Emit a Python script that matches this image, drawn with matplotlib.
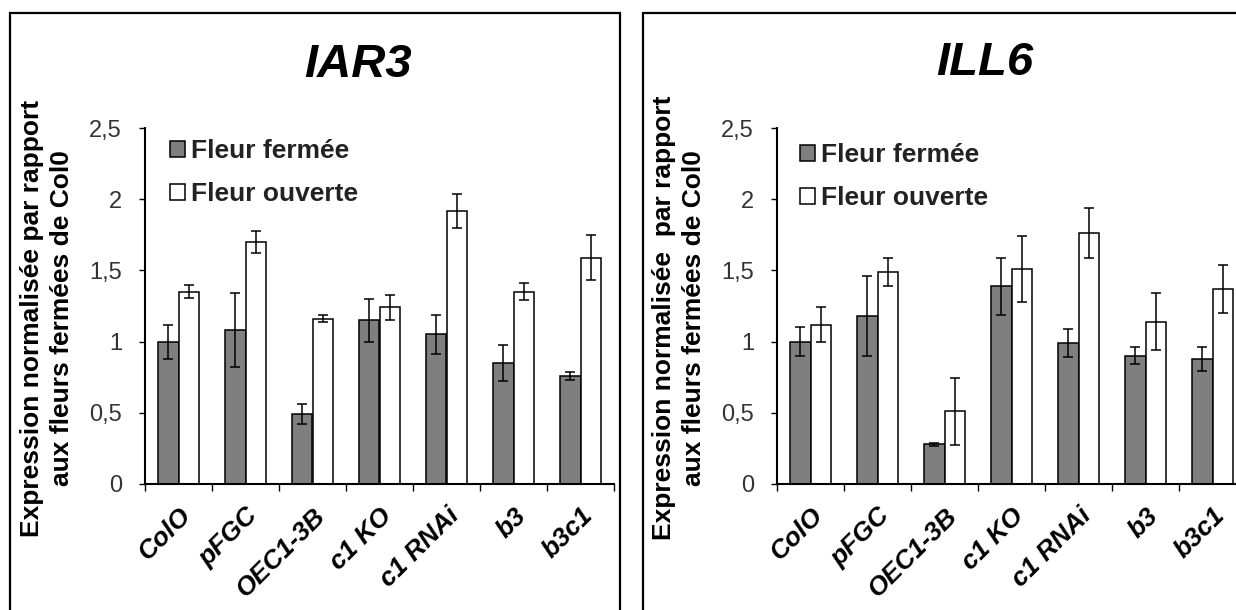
import matplotlib
matplotlib.use('Agg')
import matplotlib.pyplot as plt
import numpy as np
from matplotlib.patches import Rectangle, Patch

plt.rcParams['font.family'] = ['Liberation Sans', 'DejaVu Sans']

genotypes = ["ColO", "pFGC", "OEC1-3B", "c1 KO", "c1 RNAi", "b3", "b3c1"]

# IAR3
iar3_closed = [1.00, 1.08, 0.49, 1.15, 1.05, 0.85, 0.76]
iar3_closed_err = [0.12, 0.26, 0.07, 0.15, 0.14, 0.125, 0.03]
iar3_open = [1.35, 1.70, 1.16, 1.24, 1.92, 1.35, 1.59]
iar3_open_err = [0.045, 0.08, 0.025, 0.085, 0.12, 0.06, 0.16]

# ILL6
ill6_closed = [1.00, 1.18, 0.28, 1.39, 0.99, 0.90, 0.88]
ill6_closed_err = [0.10, 0.28, 0.01, 0.20, 0.095, 0.06, 0.085]
ill6_open = [1.12, 1.49, 0.51, 1.51, 1.76, 1.14, 1.37]
ill6_open_err = [0.12, 0.10, 0.235, 0.23, 0.175, 0.20, 0.17]

W, H = 1236, 610
GRAY = '#7f7f7f'


def fx(px):
    return px / W


def fy(py):
    return 1 - py / H


fig = plt.figure(figsize=(12.36, 6.10), dpi=100)

# panel frames
fig.add_artist(Rectangle((fx(10), -0.1), fx(610), fy(13) + 0.1, transform=fig.transFigure,
                         fill=False, lw=1.6, ec='black'))
fig.add_artist(Rectangle((fx(643), -0.1), fx(700), fy(13) + 0.1, transform=fig.transFigure,
                         fill=False, lw=1.6, ec='black'))


def draw_panel(left_px, closed, closed_err, opened, opened_err, title, title_xy, ylabel, ylab_x, leg_xy):
    ax = fig.add_axes([fx(left_px), fy(484), fx(469), (484 - 128) / H])
    x = np.arange(len(genotypes))
    w = 0.3
    ekw = dict(elinewidth=1.1, capthick=1.1, ecolor='black')
    ax.bar(x - w / 2, closed, w, color=GRAY, edgecolor='black', linewidth=1.1,
           yerr=closed_err, capsize=3.8, error_kw=ekw, label='Fleur fermée')
    ax.bar(x + w / 2, opened, w, color='white', edgecolor='black', linewidth=1.1,
           yerr=opened_err, capsize=3.8, error_kw=ekw, label='Fleur ouverte')
    ax.set_xlim(-0.5, len(genotypes) - 0.5)
    ax.set_ylim(0, 2.5)
    ax.set_yticks([0, 0.5, 1, 1.5, 2, 2.5])
    ax.set_yticklabels(['0', '0,5', '1', '1,5', '2', '2,5'], fontsize=17, color='#333333')
    ax.tick_params(axis='y', direction='out', length=4.5, width=1.0, pad=12)
    ax.set_xticks(np.arange(len(genotypes) + 1) - 0.5)
    ax.set_xticklabels([])
    ax.tick_params(axis='x', which='major', direction='out', length=5, width=1.0)
    ax.set_xticks(x, minor=True)
    ax.set_xticklabels(genotypes, minor=True, rotation=45, ha='right', rotation_mode='anchor',
                       fontsize=19, fontweight='bold', fontstyle='italic')
    ax.tick_params(axis='x', which='minor', length=0, pad=14)
    for s in ['top', 'right']:
        ax.spines[s].set_visible(False)
    for s in ['left', 'bottom']:
        ax.spines[s].set_linewidth(1.5)
    handles = [Patch(facecolor=GRAY, edgecolor='black', linewidth=1.1),
               Patch(facecolor='white', edgecolor='black', linewidth=1.1)]
    ax.legend(handles, ['Fleur fermée', 'Fleur ouverte'], loc='upper left',
              bbox_to_anchor=(fx(leg_xy[0]), fy(leg_xy[1])), bbox_transform=fig.transFigure,
              frameon=False, prop={'size': 19, 'weight': 'bold'}, handlelength=0.55,
              handleheight=0.55, handletextpad=0.25, labelspacing=0.72, borderpad=0,
              borderaxespad=0, labelcolor='#222222')
    fig.text(fx(title_xy[0]), fy(title_xy[1]), title, ha='center', va='center', fontsize=34,
             fontweight='bold', fontstyle='italic')
    fig.text(fx(ylab_x), fy(318), ylabel, rotation=90, ha='center', va='center',
             multialignment='center', fontsize=19, fontweight='bold', linespacing=1.3)
    return ax


draw_panel(145, iar3_closed, iar3_closed_err, iar3_open, iar3_open_err, 'IAR3', (358, 65),
           'Expression normalisée par rapport\naux fleurs fermées de Col0', 47, (170, 139))
draw_panel(777, ill6_closed, ill6_closed_err, ill6_open, ill6_open_err, 'ILL6', (985, 63),
           'Expression normalisée  par rapport\naux fleurs fermées de Col0', 679, (800, 143))

fig.savefig('out.png', dpi=100)
